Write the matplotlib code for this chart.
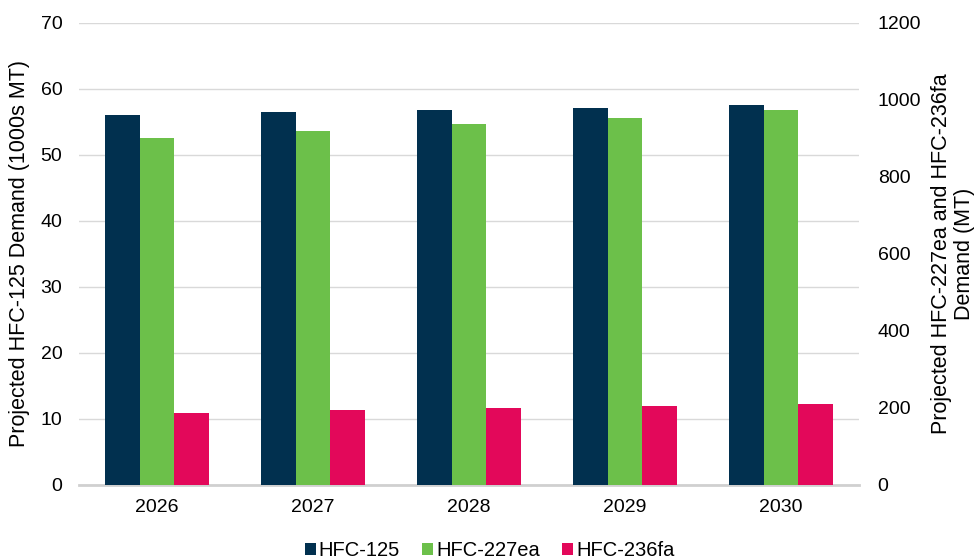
import matplotlib
matplotlib.use("Agg")
import matplotlib.pyplot as plt
import numpy as np

plt.rcParams['font.family'] = ['Liberation Sans', 'DejaVu Sans']

years = ["2026", "2027", "2028", "2029", "2030"]
hfc125 = [56.0, 56.5, 56.8, 57.1, 57.5]          # 1000s MT (left axis)
hfc227ea = [902, 919, 937, 954, 973]             # MT (right axis)
hfc236fa = [188, 194, 199, 204, 210]             # MT (right axis)

c125 = "#01304f"
c227 = "#6cc04a"
c236 = "#e3085a"

fig = plt.figure(figsize=(9.79, 5.59), dpi=100)
ax = fig.add_axes([79 / 979, 0.1324, 780 / 979, 0.8265])
ax2 = ax.twinx()

x = np.arange(len(years))
w = 0.224

ax.bar(x - w, hfc125, w, color=c125, label="HFC-125", zorder=3)
ax2.bar(x, hfc227ea, w, color=c227, label="HFC-227ea", zorder=3)
ax2.bar(x + w, hfc236fa, w, color=c236, label="HFC-236fa", zorder=3)

ax.set_xlim(-0.5, len(years) - 0.5)
ax.set_ylim(0, 70)
ax.set_yticks(np.arange(0, 71, 10))
ax2.set_ylim(0, 1200)
ax2.set_yticks(np.arange(0, 1201, 200))
ax.set_xticks(x)
ax.set_xticklabels(years)

ax.yaxis.grid(True, color="#d9d9d9", linewidth=1.0, zorder=0)
ax.set_axisbelow(True)

for a in (ax, ax2):
    for s in ("top", "left", "right"):
        a.spines[s].set_visible(False)
    a.tick_params(axis="both", length=0, labelsize=14, colors="#000000")
ax.spines["bottom"].set_color("#d0d0d0")
ax.spines["bottom"].set_linewidth(2)
ax2.spines["bottom"].set_visible(False)
ax.tick_params(axis="y", pad=12)
ax2.tick_params(axis="y", pad=13.5)
ax.tick_params(axis="x", pad=10)

# Axis titles placed in figure coordinates
fig.text(20 / 979, 0.5465, "Projected HFC-125 Demand (1000s MT)", fontsize=15.5,
         rotation=90, ha="center", va="center")
fig.text(953 / 979, 0.5465, "Projected HFC-227ea and HFC-236fa\nDemand (MT)",
         fontsize=15.5, rotation=90, ha="center", va="center",
         multialignment="center", linespacing=1.1)

h1, l1 = ax.get_legend_handles_labels()
h2, l2 = ax2.get_legend_handles_labels()
fig.legend(h1 + h2, l1 + l2, loc="lower center", bbox_to_anchor=(0.5, -0.035),
           ncol=3, frameon=False, fontsize=14.5, handlelength=0.55, handleheight=0.55,
           handletextpad=0.15, columnspacing=1.1)

fig.savefig("out.png", dpi=100)
